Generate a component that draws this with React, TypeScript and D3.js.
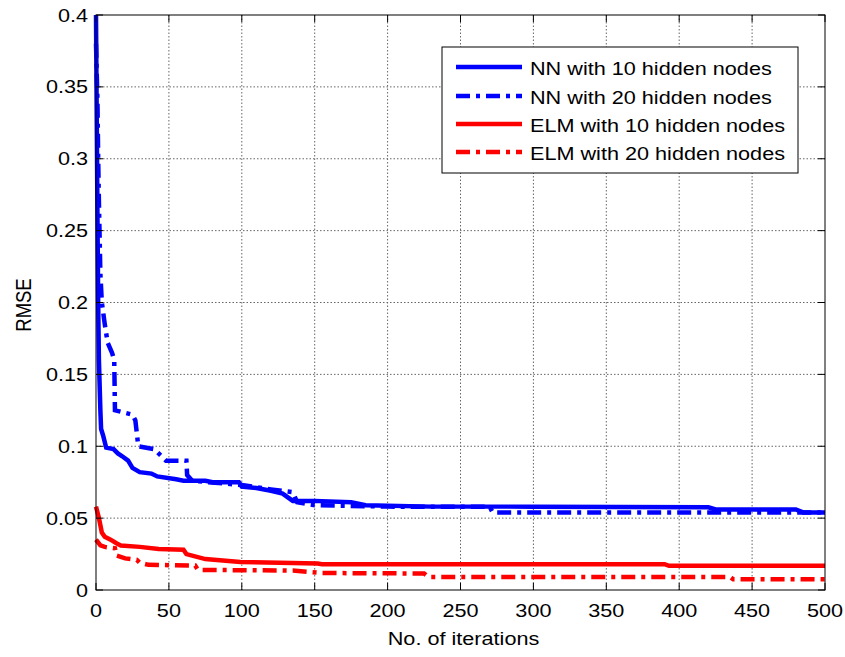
import React from "react";
import * as d3 from "d3";

const iterTicks = [0, 50, 100, 150, 200, 250, 300, 350, 400, 450, 500];
const rmseTicks = [0, 0.05, 0.1, 0.15, 0.2, 0.25, 0.3, 0.35, 0.4];

const seriesNames = [
  "NN with 10 hidden nodes",
  "NN with 20 hidden nodes",
  "ELM with 10 hidden nodes",
  "ELM with 20 hidden nodes",
];
const seriesColors = ["#0000FF", "#0000FF", "#FF0000", "#FF0000"];
const seriesDashed = [false, true, false, true];

const nn10: [number, number][] = [
  [0, 0.4], [0.5, 0.33], [1, 0.26], [1.5, 0.2], [2, 0.16], [3, 0.125], [3.5, 0.112],
  [5, 0.107], [6, 0.103], [7, 0.099], [12, 0.098], [15, 0.095], [18, 0.093],
  [22, 0.09], [25, 0.085], [30, 0.082], [38, 0.081], [42, 0.079], [55, 0.077],
  [60, 0.076], [75, 0.076], [80, 0.075], [98, 0.075], [100, 0.072], [110, 0.071],
  [120, 0.069], [128, 0.067], [135, 0.062], [150, 0.062], [175, 0.061],
  [185, 0.059], [230, 0.058], [300, 0.058], [420, 0.0575], [425, 0.056],
  [480, 0.056], [485, 0.054], [500, 0.054],
];
const nn20: [number, number][] = [
  [0, 0.38], [1, 0.34], [1.5, 0.3], [2, 0.27], [3, 0.22], [4, 0.2], [6, 0.185],
  [8, 0.172], [11, 0.165], [12.5, 0.16], [13, 0.125], [25, 0.122], [27, 0.118],
  [29, 0.1], [40, 0.098], [44, 0.094], [48, 0.09], [62, 0.09], [62.5, 0.08],
  [66, 0.076], [100, 0.073], [120, 0.07], [135, 0.068], [138, 0.061],
  [150, 0.059], [200, 0.058], [270, 0.058], [272, 0.054], [500, 0.054],
];
const elm10: [number, number][] = [
  [0, 0.058], [2, 0.05], [4, 0.04], [6, 0.037], [10, 0.035], [14, 0.0325],
  [17, 0.031], [30, 0.03], [43, 0.0285], [60, 0.028], [62, 0.025], [75, 0.0215],
  [99, 0.0195], [152, 0.0185], [155, 0.018], [390, 0.018], [393, 0.0168],
  [500, 0.0168],
];
const elm20: [number, number][] = [
  [0, 0.035], [3, 0.031], [6, 0.03], [13, 0.029], [14, 0.024], [20, 0.022],
  [28, 0.021], [30, 0.019], [36, 0.0175], [68, 0.017], [70, 0.014], [135, 0.0135],
  [155, 0.0118], [225, 0.0115], [228, 0.009], [435, 0.009], [437, 0.0075],
  [500, 0.0075],
];
const allSeries = [nn10, nn20, elm10, elm20];

const W = 845;
const H = 657;
const L = 96;
const R = 825;
const T = 15;
const B = 590;
const SX = 1.17;
const FONT = "'Liberation Sans', Arial, Helvetica, sans-serif";
const FS = 18.5;

export default function App() {
  const x = d3.scaleLinear().domain([0, 500]).range([L, R]);
  const y = d3.scaleLinear().domain([0, 0.4]).range([B, T]);
  const line = d3
    .line<[number, number]>()
    .x((d) => x(d[0]))
    .y((d) => y(d[1]));
  const fmt = d3.format("");
  const dash = "14,6,4,6";
  const lw = 4.5;

  const legX = 442, legY = 47, legW = 356, legH = 126;
  const rowY = [68, 97, 125, 153];

  return (
    <svg
      width={W}
      height={H}
      style={{ position: "absolute", left: 0, top: 0, background: "#fff" }}
      fontFamily={FONT}
    >
      <rect x={0} y={0} width={W} height={H} fill="#fff" />
      {/* grid */}
      {iterTicks.slice(1, -1).map((t) => (
        <line key={"gx" + t} x1={x(t)} x2={x(t)} y1={T} y2={B} stroke="#666" strokeWidth={1} strokeDasharray="1.5,2" />
      ))}
      {rmseTicks.slice(1, -1).map((t) => (
        <line key={"gy" + t} x1={L} x2={R} y1={y(t)} y2={y(t)} stroke="#666" strokeWidth={1} strokeDasharray="1.5,2" />
      ))}
      {/* series */}
      {allSeries.map((s, i) => (
        <path
          key={"s" + i}
          d={line(s) || ""}
          fill="none"
          stroke={seriesColors[i]}
          strokeWidth={lw}
          strokeDasharray={seriesDashed[i] ? dash : undefined}
          strokeLinejoin="miter"
        />
      ))}
      {/* frame */}
      <rect x={L} y={T} width={R - L} height={B - T} fill="none" stroke="#000" strokeWidth={1} />
      {/* ticks */}
      {iterTicks.map((t) => (
        <g key={"tx" + t}>
          <line x1={x(t)} x2={x(t)} y1={B} y2={B - 7} stroke="#000" />
          <line x1={x(t)} x2={x(t)} y1={T} y2={T + 7} stroke="#000" />
          <text
            transform={`translate(${x(t)},617) scale(${SX},1)`}
            textAnchor="middle"
            fontSize={FS}
            fill="#000"
          >
            {fmt(t)}
          </text>
        </g>
      ))}
      {rmseTicks.map((t) => (
        <g key={"ty" + t}>
          <line x1={L} x2={L + 7} y1={y(t)} y2={y(t)} stroke="#000" />
          <line x1={R} x2={R - 7} y1={y(t)} y2={y(t)} stroke="#000" />
          <text
            transform={`translate(88,${y(t) + 6.5}) scale(${SX},1)`}
            textAnchor="end"
            fontSize={FS}
            fill="#000"
          >
            {fmt(t)}
          </text>
        </g>
      ))}
      {/* axis labels */}
      <text
        transform={`translate(${(L + R) / 2 + 3},645) scale(${SX},1)`}
        textAnchor="middle"
        fontSize={FS}
        fill="#000"
      >
        No. of iterations
      </text>
      <text
        transform={`translate(31,305) scale(${SX},1) rotate(-90)`}
        textAnchor="middle"
        fontSize={FS}
        fill="#000"
      >
        RMSE
      </text>
      {/* legend */}
      <rect x={legX} y={legY} width={legW} height={legH} fill="#fff" stroke="#000" strokeWidth={1} />
      {seriesNames.map((n, i) => (
        <g key={"lg" + i}>
          <line
            x1={456}
            x2={522}
            y1={rowY[i] - 1}
            y2={rowY[i] - 1}
            stroke={seriesColors[i]}
            strokeWidth={lw}
            strokeDasharray={seriesDashed[i] ? dash : undefined}
          />
          <text
            transform={`translate(530,${rowY[i] + 6.5}) scale(${SX},1)`}
            fontSize={FS}
            fill="#000"
          >
            {n}
          </text>
        </g>
      ))}
    </svg>
  );
}
